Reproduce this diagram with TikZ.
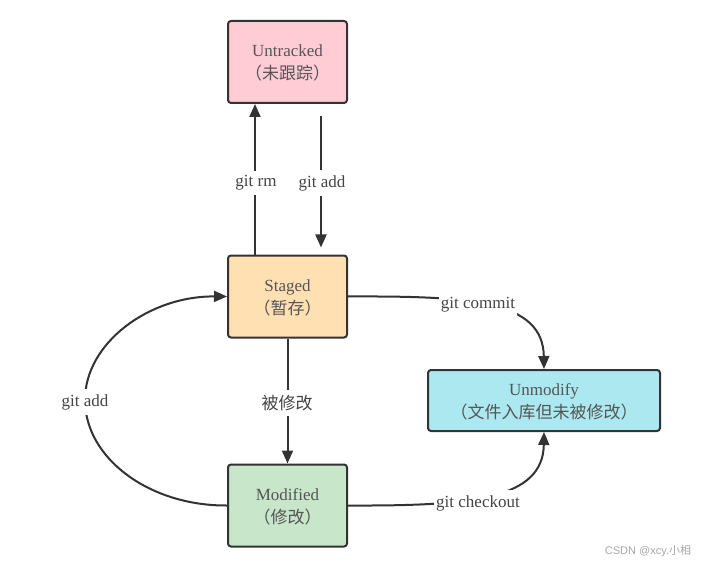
\documentclass[tikz,border=0pt]{standalone}
\usepackage{fontspec}
\setmainfont{Liberation Serif}
\newfontfamily\cjk{Noto Sans CJK SC}
\newfontfamily\wmfont{Liberation Sans}
\usetikzlibrary{arrows.meta,calc}
\definecolor{edgec}{HTML}{333333}
\definecolor{txtc}{HTML}{555555}
\definecolor{lblc}{HTML}{444444}
\definecolor{pinkc}{HTML}{FFCCD5}
\definecolor{peachc}{HTML}{FFE0B3}
\definecolor{cyanc}{HTML}{ABE8F0}
\definecolor{greenc}{HTML}{C8E6C9}
\tikzset{
  state/.style={draw=edgec, line width=2pt, rounded corners=3pt, minimum width=119pt,
    minimum height=82pt, align=center, text=txtc, font=\fontsize{17}{23}\selectfont},
  conn/.style={draw=edgec, line width=2pt, -{Triangle[length=13pt,width=11pt]}},
  lbl/.style={fill=white, text=lblc, inner xsep=2pt, inner ysep=5pt, font=\fontsize{17}{20}\selectfont},
}
\begin{document}
\begin{tikzpicture}[x=1pt,y=-1pt]
\useasboundingbox (0,0) rectangle (704,564);
% states
\node[state, fill=pinkc] (untracked) at (287.5,62) {\rule{0pt}{14pt}Untracked\\{\cjk （未跟踪）}};
\node[state, fill=peachc] (staged) at (287.5,296.5) {\rule{0pt}{14pt}Staged\\{\cjk （暂存）}};
\node[state, fill=greenc] (modified) at (287.5,505.5) {\rule{0pt}{14pt}Modified\\{\cjk （修改）}};
\node[state, fill=cyanc, minimum width=232pt, minimum height=61pt] (unmodify) at (544,400.5) {\rule{0pt}{14pt}Unmodify\\{\cjk （文件入库但未被修改）}};
% helper coordinates
\coordinate (rmstart) at ($(staged.north west)+(28,0)$);
\coordinate (rmend) at ($(untracked.south west)+(28,0)$);
\coordinate (addstart) at ($(untracked.south west)+(94,12)$);
\coordinate (addend) at ($(staged.north west)+(94,-7)$);
% connectors
\draw[conn] (rmstart) -- (rmend);
\draw[conn] (addstart) -- (addend);
\draw[conn] (staged.south) -- (modified.north);
\draw[conn] (staged.east) .. controls (470,296) and (543,300) .. (unmodify.north);
\draw[conn] (modified.east) .. controls (470,506) and (543,500) .. (unmodify.south);
\draw[conn] (modified.west) .. controls (149,506) and (85,458) .. (85,400)
  .. controls (85,343) and (149,296) .. (staged.west);
% labels
\node[lbl] (lrm) at (256,183) {git rm};
\node[lbl] (ladd) at (322,183) {git add};
\node[lbl] (lmod) at (287,403) {\cjk 被修改};
\node[lbl] (lcommit) at (478,305) {git commit};
\node[lbl] (lcheckout) at (478,503) {git checkout};
\node[lbl] (laddleft) at (85,402) {git add};
% watermark
\node[text=black!35, font=\wmfont\fontsize{11}{13}\selectfont] (wm) at (648,551) {CSDN @xcy.{\cjk 小相}};
\end{tikzpicture}
\end{document}
